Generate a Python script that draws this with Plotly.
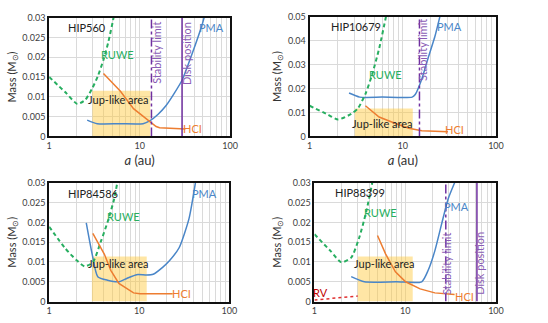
import plotly.graph_objects as go
import numpy as np

# ---------------- data ----------------
names = ["HIP560", "HIP10679", "HIP84586", "HIP88399"]
ymax = [0.03, 0.05, 0.03, 0.03]
ytick_vals = [
    [0, 0.005, 0.01, 0.015, 0.02, 0.025, 0.03],
    [0, 0.01, 0.02, 0.03, 0.04, 0.05],
    [0, 0.005, 0.01, 0.015, 0.02, 0.025, 0.03],
    [0, 0.005, 0.01, 0.015, 0.02, 0.025, 0.03],
]
ytick_text = [
    ["0", "0.005", "0.01", "0.015", "0.02", "0.025", "0.03"],
    ["0", "0.01", "0.02", "0.03", "0.04", "0.05"],
    ["0", "0.005", "0.01", "0.015", "0.02", "0.025", "0.03"],
    ["0", "0.005", "0.01", "0.015", "0.02", "0.025", "0.03"],
]
xtick_vals = [1, 10, 100]
xtick_text = ["1", "10", "100"]

ruwe_a = [
    [1, 1.5, 2.05, 2.5, 3.0, 3.45, 4.0, 4.5, 5.2, 6.0],
    [1, 1.5, 2.02, 2.8, 3.3, 4.0, 4.7, 5.6, 6.6, 7.5],
    [1, 1.5, 2.0, 2.48, 3.05, 3.75, 4.45, 5.25, 5.7, 6.5],
    [1, 1.5, 1.98, 2.54, 3.1, 3.7, 4.37, 5.0],
]
ruwe_m = [
    [0.015, 0.0112, 0.0082, 0.0092, 0.0122, 0.0152, 0.0195, 0.0238, 0.0305, 0.04],
    [0.0128, 0.0095, 0.0071, 0.0094, 0.0117, 0.018, 0.026, 0.037, 0.05, 0.06],
    [0.0189, 0.0135, 0.0105, 0.0089, 0.0099, 0.0152, 0.0201, 0.0258, 0.03, 0.037],
    [0.017, 0.0128, 0.0099, 0.0111, 0.016, 0.0225, 0.0305, 0.04],
]

pma_a = [
    [2.63, 3.4, 6.0, 10.9, 12.9, 16.0, 19.6, 24.0, 29.6, 37.9, 48.7, 53.0],
    [2.65, 3.45, 6.0, 12.6, 13.6, 16.0, 18.8, 22.1, 25.0],
    [2.58, 3.0, 3.46, 4.44, 5.94, 7.34, 9.4, 12.1, 14.3, 18.3, 21.6, 27.7, 35.6, 42.0],
    [2.54, 3.55, 8.0, 15.2, 17.9, 21.2, 25.0, 29.6, 35.0],
]
pma_m = [
    [0.0041, 0.0032, 0.0032, 0.0032, 0.0039, 0.0056, 0.0078, 0.0108, 0.0143, 0.0208, 0.028, 0.031],
    [0.0181, 0.0164, 0.0164, 0.0164, 0.0175, 0.024, 0.033, 0.0417, 0.05],
    [0.0199, 0.012, 0.0063, 0.0054, 0.005, 0.0059, 0.0068, 0.0067, 0.0069, 0.0087, 0.0103, 0.0136, 0.0209, 0.03],
    [0.0063, 0.005, 0.005, 0.005, 0.0079, 0.0128, 0.0193, 0.0258, 0.03],
]

hci_a = [
    [3.98, 6.13, 8.55, 11.9, 15.2, 16.6, 32.0],
    [3.97, 5.57, 8.36, 11.6, 16.0, 30.5],
    [3.05, 4.09, 4.83, 5.94, 8.64, 10.2, 23.5],
    [4.95, 6.09, 7.8, 10.1, 14.6, 21.2, 35.0],
]
hci_m = [
    [0.0159, 0.0114, 0.007, 0.0045, 0.0025, 0.0022, 0.0019],
    [0.0128, 0.0081, 0.0054, 0.0034, 0.0024, 0.002],
    [0.0172, 0.012, 0.0079, 0.0046, 0.0022, 0.002, 0.002],
    [0.0167, 0.012, 0.0075, 0.005, 0.0032, 0.0022, 0.0018],
]

rv_a = [1.0, 3.0]
rv_m = [0.0004, 0.0014]

jup_a = [[3.0, 13.1], [3.05, 12.8], [2.98, 12.1], [3.0, 12.1]]
jup_m = [0.0115, 0.0117, 0.0114, 0.0114]

stability_a = [13.5, 15.1, None, 28.0]
disk_a = [29.4, None, None, 61.7]

# label positions (a, mass)
ruwe_lab = [(5.65, 0.0206), (6.56, 0.026), (6.7, 0.0215), (5.37, 0.0225)]
pma_lab = [(62, 0.0274), (32, 0.0457), (53, 0.0274), (36.6, 0.024)]
hci_lab = [(38, 0.0019), (36, 0.0027), (29.6, 0.002), (45, 0.0014)]
jup_lab = [(5.9, 0.0094), (6.0, 0.0052), (5.94, 0.0097), (5.84, 0.0095)]
rv_lab = (1.17, 0.0023)
stab_lab = [(15.3, 0.0212), (16.0, 0.036), None, (28.8, 0.0095)]
disk_lab = [(32.4, 0.021), None, None, (64.5, 0.0097)]
name_lab = [(1.55, 0.0274), (1.6, 0.0457), (1.55, 0.0274), (1.6, 0.0275)]

# ---------------- style ----------------
FONT = "Lato"
GREEN = "#27AE60"
BLUE = "#4A86C8"
ORANGE = "#ED7D31"
PURPLE = "#7030A0"
YELLOW = "rgba(255,200,55,0.45)"
GRID = "#DADADA"

xdom = [[0.086, 0.423], [0.571, 0.918], [0.086, 0.4215], [0.580, 0.918]]
ydom = [[0.582, 0.963], [0.582, 0.966], [0.0526, 0.4334], [0.0526, 0.4334]]

fig = go.Figure()


def label(xa, ya, pos, txt, col, angle=0, anchor="center"):
    fig.add_annotation(x=np.log10(pos[0]), y=pos[1], xref=xa, yref=ya, text=txt,
                       textangle=angle, showarrow=False, xanchor=anchor,
                       font=dict(color=col, size=11, family=FONT))


for i in range(4):
    xa = "x" if i == 0 else f"x{i+1}"
    ya = "y" if i == 0 else f"y{i+1}"
    # Jup-like box
    x0, x1 = jup_a[i]
    fig.add_trace(go.Scatter(x=[x0, x1, x1, x0, x0], y=[0, 0, jup_m[i], jup_m[i], 0],
                             fill="toself", fillcolor=YELLOW, line=dict(width=0),
                             mode="lines", xaxis=xa, yaxis=ya, showlegend=False, hoverinfo="skip"))
    # PMA
    fig.add_trace(go.Scatter(x=pma_a[i], y=pma_m[i], mode="lines",
                             line=dict(color=BLUE, width=1.5, shape="spline", smoothing=0.6),
                             xaxis=xa, yaxis=ya, showlegend=False))
    # RUWE
    fig.add_trace(go.Scatter(x=ruwe_a[i], y=ruwe_m[i], mode="lines",
                             line=dict(color=GREEN, width=2, dash="4px,3px", shape="spline", smoothing=0.6),
                             xaxis=xa, yaxis=ya, showlegend=False))
    # HCI
    fig.add_trace(go.Scatter(x=hci_a[i], y=hci_m[i], mode="lines",
                             line=dict(color=ORANGE, width=1.5),
                             xaxis=xa, yaxis=ya, showlegend=False))
    if i == 3:
        fig.add_trace(go.Scatter(x=rv_a, y=rv_m, mode="lines",
                                 line=dict(color="#E03030", width=1.5, dash="dot"),
                                 xaxis=xa, yaxis=ya, showlegend=False))
        label(xa, ya, rv_lab, "RV", "#C00000")
    if stability_a[i] is not None:
        fig.add_trace(go.Scatter(x=[stability_a[i]] * 2, y=[0, ymax[i]], mode="lines",
                                 line=dict(color=PURPLE, width=1.5, dash="dashdot"),
                                 xaxis=xa, yaxis=ya, showlegend=False))
        label(xa, ya, stab_lab[i], "Stability limit", "#8A5CB5", angle=-90)
    if disk_a[i] is not None:
        fig.add_trace(go.Scatter(x=[disk_a[i]] * 2, y=[0, ymax[i]], mode="lines",
                                 line=dict(color=PURPLE, width=1.5),
                                 xaxis=xa, yaxis=ya, showlegend=False))
        label(xa, ya, disk_lab[i], "Disk position", "#8A5CB5", angle=-90)
    label(xa, ya, ruwe_lab[i], "RUWE", GREEN)
    label(xa, ya, pma_lab[i], "PMA", BLUE)
    label(xa, ya, hci_lab[i], "HCI", ORANGE)
    label(xa, ya, jup_lab[i], "Jup-like area", "#222222")
    label(xa, ya, name_lab[i], names[i], "#222222", anchor="left")

    xkey = "xaxis" if i == 0 else f"xaxis{i+1}"
    ykey = "yaxis" if i == 0 else f"yaxis{i+1}"
    fig.update_layout(**{
        xkey: dict(domain=xdom[i], anchor=ya, type="log", range=[0, 2],
                   tickvals=xtick_vals, ticktext=xtick_text, showgrid=True, gridcolor=GRID,
                   minor=dict(tickvals=[2, 3, 4, 5, 6, 7, 8, 9, 20, 30, 40, 50, 60, 70, 80, 90],
                              showgrid=True, gridcolor=GRID, ticks=""),
                   showline=True, mirror=True, linecolor="#111111", linewidth=2,
                   ticks="", tickfont=dict(size=9, color="#404040", family=FONT),
                   zeroline=False, fixedrange=True),
        ykey: dict(domain=ydom[i], anchor=xa, range=[0, ymax[i]],
                   tickvals=ytick_vals[i], ticktext=ytick_text[i], showgrid=True, gridcolor=GRID,
                   showline=True, mirror=True, linecolor="#111111", linewidth=2,
                   ticks="", tickfont=dict(size=9, color="#404040", family=FONT),
                   zeroline=False,
                   title=dict(text="Mass (M<sub>⊙</sub>)", standoff=4,
                              font=dict(size=11, color="#333333", family=FONT))),
    })
    if i < 2:
        fig.layout[xkey].title = dict(text="<i>a</i> (au)", standoff=6,
                                      font=dict(size=13, color="#333333", family=FONT))

fig.update_layout(width=548, height=323, margin=dict(l=0, r=0, t=0, b=0),
                  paper_bgcolor="white", plot_bgcolor="white",
                  font=dict(family=FONT))
fig.write_html("out.html")
